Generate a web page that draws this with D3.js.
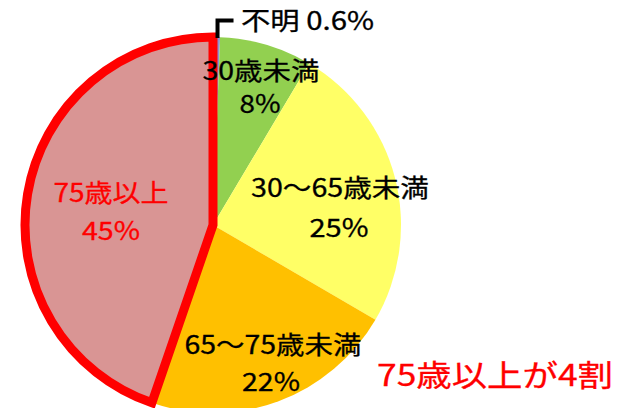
<!DOCTYPE html>
<html><head><meta charset="utf-8">
<script src="https://cdn.jsdelivr.net/npm/d3@7"></script>
<style>
html,body{margin:0;padding:0;background:#fff;}
svg{display:block;font-family:"Noto Sans CJK JP","Noto Sans",sans-serif;}
</style></head>
<body>
<svg id="chart" width="634" height="408"></svg>
<script>
// ---- data ----
const categories = ["不明", "30歳未満", "30～65歳未満", "65～75歳未満", "75歳以上"];
const values = [0.6, 8, 25, 22, 45];
const percentLabels = ["0.6%", "8%", "25%", "22%", "45%"];
const sliceColors = ["#8F8FD0", "#92D050", "#FFFF66", "#FFC000", "#D99594"];
const highlightIndex = 4;
const headline = "75歳以上が4割";

// ---- layout ----
const cx = 213, cy = 225, R = 188;
const svg = d3.select("#chart");
const g = svg.append("g").attr("transform", `translate(${cx},${cy})`);

const pie = d3.pie().sort(null).value(d => d.v);
const data = pie(values.map((v, i) => ({v, i})));
const arc = d3.arc().innerRadius(0).outerRadius(R);
const color = d3.scaleOrdinal().domain(d3.range(categories.length)).range(sliceColors);

g.selectAll("path.slice").data(data).enter().append("path")
  .attr("class", "slice")
  .attr("d", arc)
  .attr("fill", d => color(d.data.i));

// highlighted slice outline
g.append("path")
  .datum(data[highlightIndex])
  .attr("d", arc)
  .attr("fill", "none")
  .attr("stroke", "#FF0000")
  .attr("stroke-width", 9)
  .attr("stroke-linejoin", "miter")
  .attr("stroke-miterlimit", 3);

// leader for the tiny slice
const tiny = data[0];
const midA = (tiny.startAngle + tiny.endAngle) / 2;
const lx = Math.sin(midA) * R + 1, ly = -Math.cos(midA) * R + 1;
g.append("path")
  .attr("d", `M${lx},${ly} V${ly - 17.5} H${lx + 16}`)
  .attr("fill", "none").attr("stroke", "#000").attr("stroke-width", 4);

// label layout relative to pie centre
const labelLayout = [
  {lines: [{dx: 28, dy: -195, len: 133, anchor: "start", text: categories[0] + " " + percentLabels[0]}]},
  {lines: [{dx: 48, dy: -145, len: 117, text: categories[1]}, {dx: 47, dy: -112, len: 41, text: percentLabels[1]}]},
  {lines: [{dx: 127, dy: -28, len: 178, text: categories[2]}, {dx: 126, dy: 12, len: 59, text: percentLabels[2]}]},
  {lines: [{dx: 60, dy: 129, len: 177, text: categories[3]}, {dx: 58, dy: 166, len: 58, text: percentLabels[3]}]},
  {lines: [{dx: -102, dy: -23, len: 115, text: categories[4]}, {dx: -102, dy: 15, len: 58, text: percentLabels[4]}]}
];

labelLayout.forEach((lab, i) => {
  lab.lines.forEach(l => {
    g.append("text")
      .attr("x", l.dx)
      .attr("y", l.dy)
      .attr("text-anchor", l.anchor || "middle")
      .attr("font-size", 25)
      .attr("fill", i === highlightIndex ? "#FF0000" : "#000")
      .attr("stroke", i === highlightIndex ? "#FF0000" : "#000")
      .attr("stroke-width", 0.3)
      .attr("textLength", l.len)
      .attr("lengthAdjust", "spacingAndGlyphs")
      .text(l.text);
  });
});

// headline
svg.append("text")
  .attr("x", 377).attr("y", 386)
  .attr("font-size", 30)
  .attr("fill", "#FF0000")
  .attr("stroke", "#FF0000")
  .attr("stroke-width", 0.3)
  .attr("textLength", 236)
  .attr("lengthAdjust", "spacingAndGlyphs")
  .text(headline);
</script>
</body></html>
